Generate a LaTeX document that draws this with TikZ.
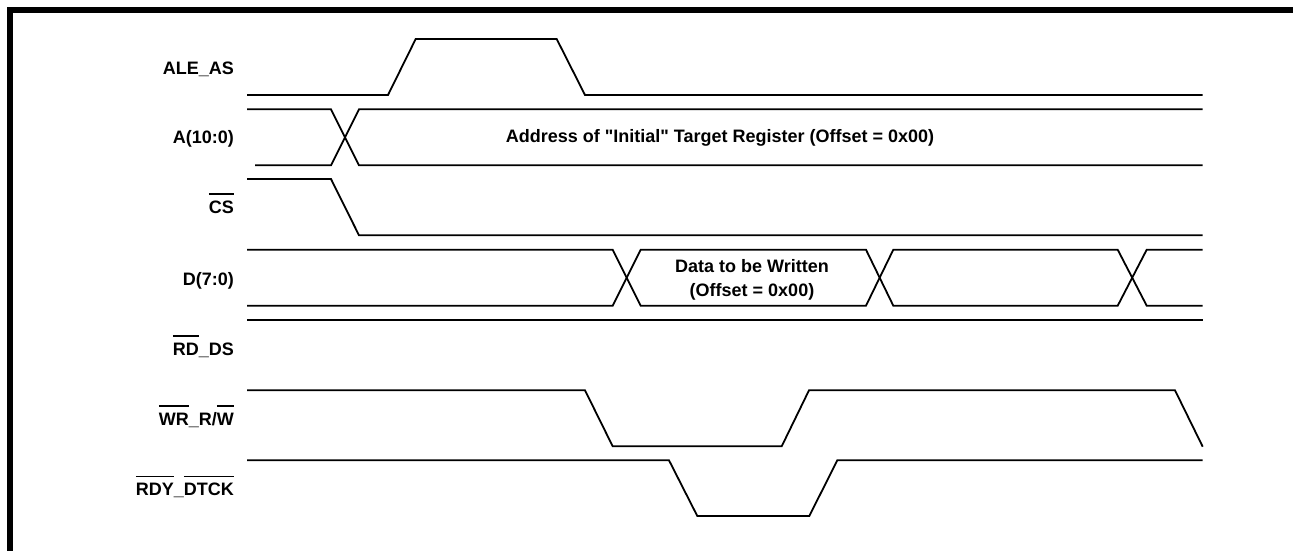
\documentclass[tikz,border=0pt]{standalone}
\usepackage{fontspec}
\setmainfont{Liberation Sans}
\newsavebox{\ovlbox}
\newcommand{\ovl}[1]{\sbox{\ovlbox}{#1}\rlap{\raisebox{18.3pt}{\rule{\wd\ovlbox}{1.8pt}}}\usebox{\ovlbox}}
\begin{document}
\begin{tikzpicture}[x=1pt,y=-1pt,line join=miter,
  wave/.style={line width=1.8pt},
  frame/.style={line width=5.5pt},
  lbl/.style={anchor=base east,font=\fontsize{18}{20}\selectfont\bfseries,inner sep=0pt},
  txt/.style={font=\fontsize{18}{24}\selectfont\bfseries,inner sep=0pt,align=center}]
\useasboundingbox (0,0) rectangle (1293,550);
% frame
\coordinate (fbl) at (9.75,560);
\coordinate (ftl) at (9.75,9.75);
\coordinate (ftr) at (1300,9.75);
\draw[frame] (fbl) -- (ftl) -- (ftr);
% labels
\node[lbl] (lale) at (234,74) {ALE\_AS};
\node[lbl] (la) at (234,143.5) {A(10:0)};
\node[lbl] (lcs) at (234,213) {\ovl{CS}};
\node[lbl] (ld) at (234,285) {D(7:0)};
\node[lbl] (lrd) at (234,355) {\ovl{RD}\_DS};
\node[lbl] (lwr) at (234,425) {\ovl{WR}\_R/\ovl{W}};
\node[lbl] (lrdy) at (234,495.7) {\ovl{RDY}\_\ovl{DTCK}};
% ALE_AS
\draw[wave] (247,95) -- (388,95) -- (415.7,39) -- (556.7,39) -- (585,95) -- (1202.7,95);
% A(10:0)
\draw[wave] (247,109.3) -- (331,109.3) -- (359,165.3) -- (1202.7,165.3);
\draw[wave] (255,165.3) -- (331,165.3) -- (359,109.3) -- (1202.7,109.3);
\node[txt] (atext) at (720,138) {Address of \textquotedbl Initial\textquotedbl{} Target Register (Offset = 0x00)};
% CS
\draw[wave] (247,179) -- (331,179) -- (359,235.3) -- (1202.7,235.3);
% D(7:0)
\draw[wave] (247,249.7) -- (612.7,249.7) -- (640.7,305.7) -- (866,305.7) -- (893.3,249.7) -- (1117.7,249.7) -- (1146.7,305.7) -- (1202.7,305.7);
\draw[wave] (247,305.7) -- (612.7,305.7) -- (640.7,249.7) -- (866,249.7) -- (893.3,305.7) -- (1117.7,305.7) -- (1146.7,249.7) -- (1202.7,249.7);
\node[txt] (dtext) at (752,280) {Data to be Written\\(Offset = 0x00)};
% RD_DS
\draw[wave] (247,320) -- (1202.7,320);
% WR_R/W
\draw[wave] (247,390.3) -- (585,390.3) -- (612.7,446.3) -- (781.7,446.3) -- (809,390.3) -- (1175,390.3) -- (1202.7,446.7);
% RDY_DTCK
\draw[wave] (247,460.3) -- (669,460.3) -- (697.3,516) -- (809.3,516) -- (837.3,460.3) -- (1202.7,460.3);
\end{tikzpicture}
\end{document}
